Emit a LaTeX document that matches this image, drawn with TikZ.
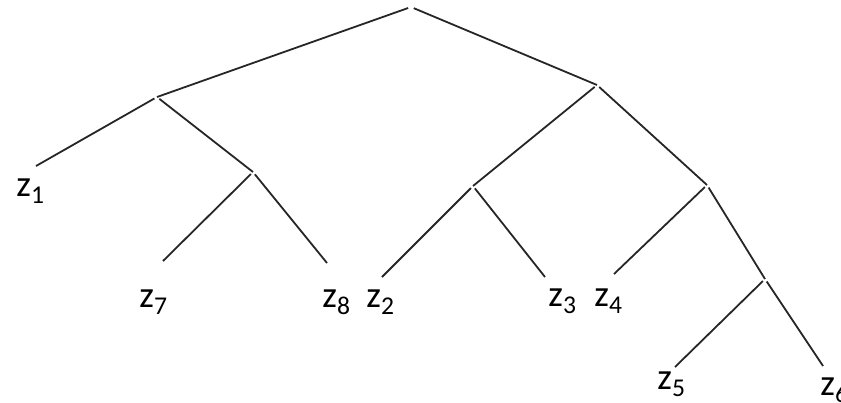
\documentclass[tikz,border=0pt]{standalone}
\usepackage{fontspec}
\setmainfont{Carlito}
\newcommand{\zlab}[1]{z\raisebox{-0.19em}{\fontsize{12.8}{13}\selectfont #1}}
\tikzset{
	branch/.style={draw=black!85, line width=0.9pt, shorten <=1.5pt},
	leaf/.style={anchor=base west, inner sep=0pt, font=\fontsize{18.5}{20}\selectfont}
}
\begin{document}
\begin{tikzpicture}[x=0.5pt, y=-0.5pt]
		\useasboundingbox (0,0) rectangle (841,402);

		% junctions of the tree
		\coordinate (root) at (411,7);
		\coordinate (a) at (157,97);
		\coordinate (b) at (253,172);
		\coordinate (c) at (597,85);
		\coordinate (d) at (473,186);
		\coordinate (e) at (707,185);
		\coordinate (f) at (765,279);

		% free ends of the leaves
		\coordinate (end1) at (36,166);
		\coordinate (end7) at (163,261);
		\coordinate (end8) at (327,263);
		\coordinate (end2) at (382,277);
		\coordinate (end3) at (545,277);
		\coordinate (end4) at (614,274);
		\coordinate (end5) at (675,367);
		\coordinate (end6) at (823,366);

		\begin{scope}[branch]
			\draw (root) -- (a);
			\draw (root) -- (c);
			\draw (a) -- (end1);
			\draw (a) -- (b);
			\draw (b) -- (end7);
			\draw (b) -- (end8);
			\draw (c) -- (d);
			\draw (c) -- (e);
			\draw (d) -- (end2);
			\draw (d) -- (end3);
			\draw (e) -- (end4);
			\draw (e) -- (f);
			\draw (f) -- (end5);
			\draw (f) -- (end6);
		\end{scope}

		% leaf labels
		\node[leaf] (z1) at (16,196) {\zlab{1}};
		\node[leaf] (z7) at (139,307) {\zlab{7}};
		\node[leaf] (z8) at (322,307) {\zlab{8}};
		\node[leaf] (z2) at (366,307) {\zlab{2}};
		\node[leaf] (z3) at (548,306) {\zlab{3}};
		\node[leaf] (z4) at (594,306) {\zlab{4}};
		\node[leaf] (z5) at (657,389) {\zlab{5}};
		\node[leaf] (z6) at (820,395) {\zlab{6}};

	\end{tikzpicture}
\end{document}
